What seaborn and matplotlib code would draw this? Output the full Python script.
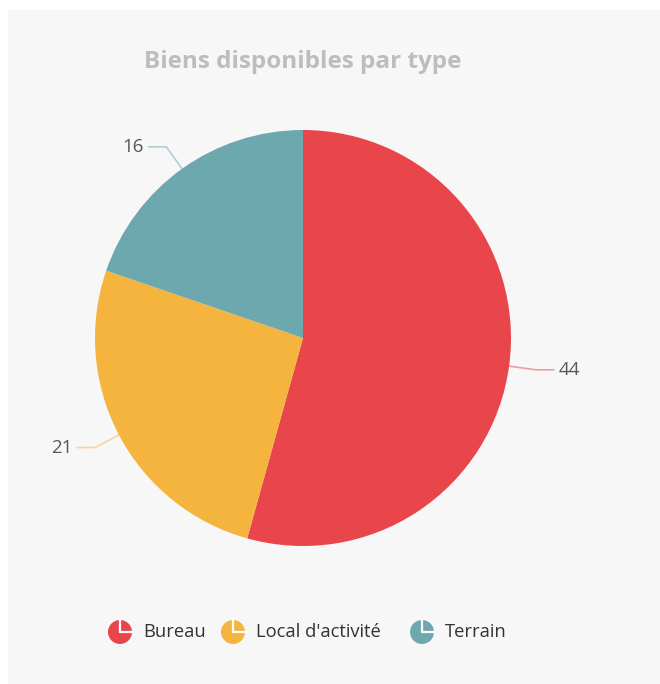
import numpy as np
import matplotlib
matplotlib.use("Agg")
import matplotlib.pyplot as plt
from matplotlib.patches import Rectangle, Circle
import seaborn as sns

# Data
categories = ["Bureau", "Local d'activité", "Terrain"]
counts = [44, 21, 16]
title = "Biens disponibles par type"

sns.set_theme(style="white")
plt.rcParams["font.family"] = ["Open Sans", "DejaVu Sans"]

palette = sns.color_palette(["#E8464B", "#F5B43E", "#6DA8AF"])

W, H = 660, 684
fig = plt.figure(figsize=(W / 100, H / 100), dpi=100)
fig.patch.set_facecolor("white")
ax = fig.add_axes([0, 0, 1, 1])

# Card background
ax.add_patch(Rectangle((8, 0), W - 8, H - 10, facecolor="#F7F7F7",
                       edgecolor="none", zorder=0))

cx, cy, R = 303, 346, 208
wedges, _ = ax.pie(counts, colors=palette, startangle=90, counterclock=False,
                   center=(cx, cy), radius=R, frame=True,
                   wedgeprops=dict(linewidth=0, antialiased=True))
for w in wedges:
    w.set_zorder(2)

# Leader lines and value labels
L1, L2, gap = 27, 18, 5
for w, val, col in zip(wedges, counts, palette):
    mid = np.deg2rad((w.theta1 + w.theta2) / 2)
    c, s = np.cos(mid), np.sin(mid)
    p0 = (cx + R * c, cy + R * s)
    p1 = (cx + (R + L1) * c, cy + (R + L1) * s)
    side = 1 if c >= 0 else -1
    p2 = (p1[0] + side * L2, p1[1])
    ax.plot([p0[0], p1[0], p2[0]], [p0[1], p1[1], p2[1]],
            color=col, alpha=0.5, lw=1.2, zorder=1,
            solid_joinstyle="round", solid_capstyle="round")
    ax.text(p2[0] + side * gap, p2[1], str(val), fontsize=13.5,
            color="#595959", ha="left" if side > 0 else "right",
            va="center", zorder=3)

# Title
ax.text(303, H - 62, title, fontsize=17.5, fontweight="bold",
        color="#BDBDBD", ha="center", va="center", zorder=3)

# Legend with pie-shaped markers
leg_y = H - 632
icon_x = [120, 233, 422]
ir = 12
for x, name, col in zip(icon_x, categories, palette):
    ax.add_patch(Circle((x, leg_y), ir, facecolor=col, edgecolor="none", zorder=3))
    ax.plot([x, x], [leg_y, leg_y + ir], color="white", lw=1.6, zorder=4)
    ax.plot([x, x + ir], [leg_y, leg_y], color="white", lw=1.6, zorder=4)
    ax.text(x + 23, leg_y, name, fontsize=13.2, color="#333333",
            ha="left", va="center", zorder=3)

ax.set_xlim(0, W)
ax.set_ylim(0, H)
ax.set_aspect("equal", adjustable="box")
ax.axis("off")

fig.savefig("out.png", dpi=100, facecolor="white")
